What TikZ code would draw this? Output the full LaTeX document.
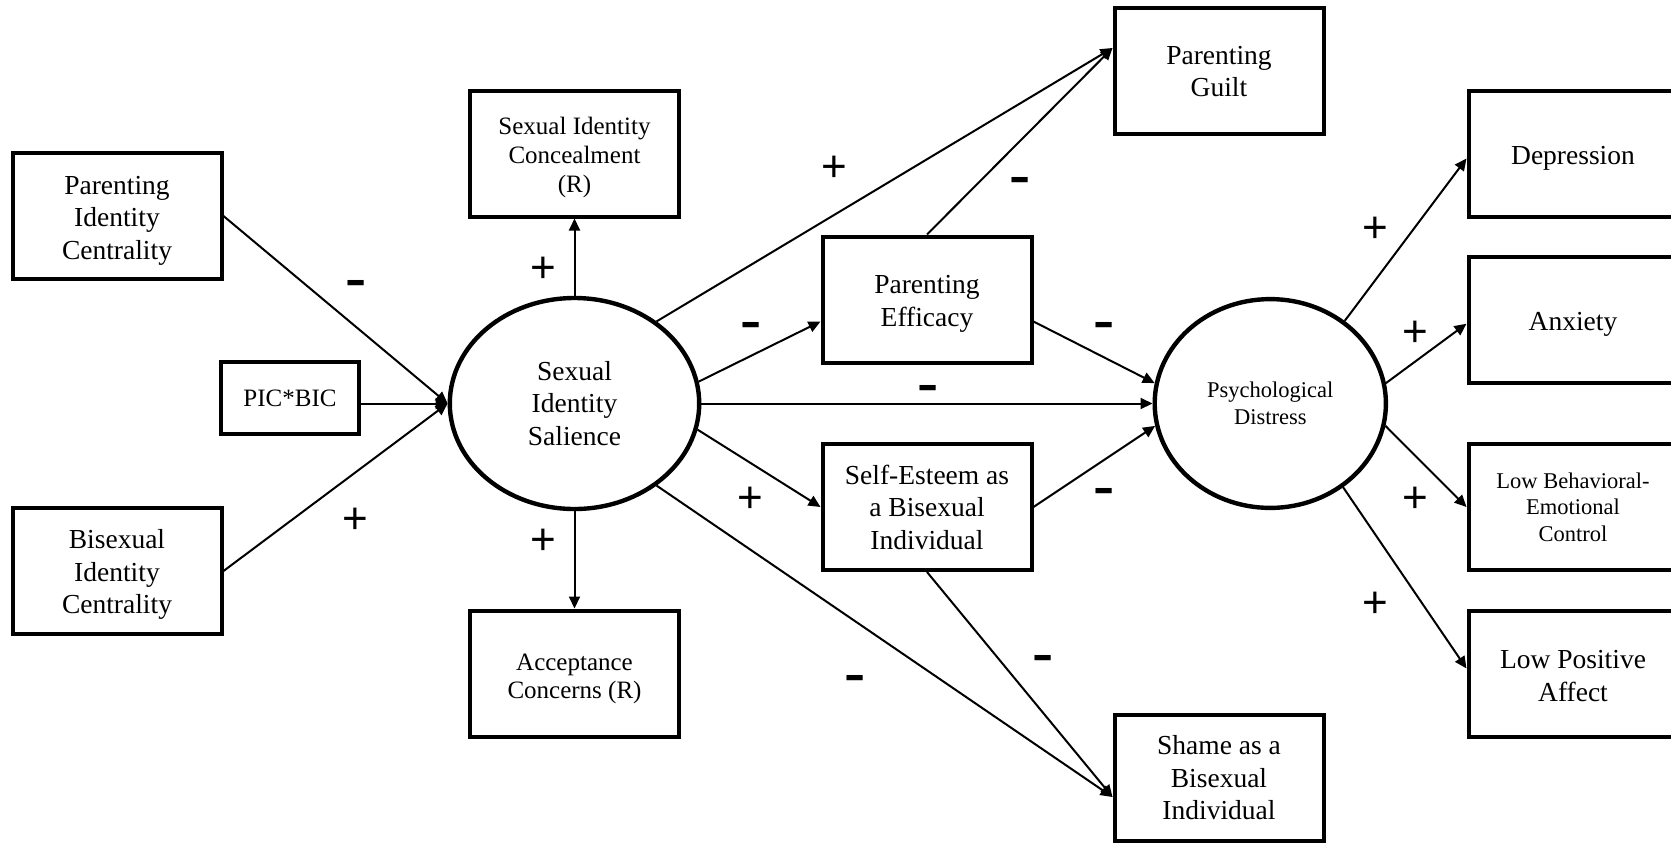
\documentclass[tikz,border=0pt]{standalone}
\usepackage{fontspec}
\setmainfont{Liberation Serif}
\setsansfont{Liberation Sans}
\usepackage{graphicx}
\usetikzlibrary{arrows.meta,shapes.geometric,calc}
\newcommand\fbig{\fontsize{13.75pt}{16.25pt}\selectfont}
\newcommand\fmid{\fontsize{12.5pt}{14.4pt}\selectfont}
\newcommand\fsmall{\fontsize{11.25pt}{13.25pt}\selectfont}
\newcommand\fsign{\sffamily\fontsize{22pt}{22pt}\selectfont}
\newcommand\mns{\scalebox{1.45}[1]{\bfseries -}}
\tikzset{
  box/.style={draw, line width=2pt, minimum width=104.5pt, minimum height=63pt,
    inner sep=0pt, align=center, font=\fbig},
  lat/.style={draw, ellipse, line width=2.2pt, minimum width=124.7pt, minimum height=105.5pt,
    inner sep=0pt, align=center, font=\fbig},
  arr/.style={line width=1pt, -{Triangle[length=6pt,width=5.5pt]}},
  plus/.style={font=\fsign, inner sep=0pt},
  minus/.style={font=\fsign, inner sep=0pt, yshift=-2pt},
  low/.style={execute at begin node={\rule{0pt}{#1}}},
}
\begin{document}
\begin{tikzpicture}[x=0.5pt, y=-0.5pt]
\useasboundingbox (0,0) rectangle (1671,842);
\clip (0,0) rectangle (1671,842);
\fill[white] (0,0) rectangle (1671,842);
% nodes
\node[box, low=46.2pt] (pic) at (117,216) {Parenting\\Identity\\Centrality};
\node[box, minimum width=69pt, minimum height=35.7pt, font=\fmid] (picbic) at (290,398) {PIC*BIC};
\node[box, low=45.5pt] (bic) at (117,571) {Bisexual\\Identity\\Centrality};
\node[box, font=\fmid, low=41.6pt] (conc) at (574.5,153.5) {Sexual Identity\\Concealment\\(R)};
\node[lat] (sal) at (574.5,403.5) {Sexual\\Identity\\Salience};
\node[box, font=\fmid, low=28.1pt] (acc) at (574.5,673.5) {Acceptance\\Concerns (R)};
\node[box] (guilt) at (1219,71.4) {Parenting\\Guilt};
\node[box, low=29.9pt] (eff) at (927,299.5) {Parenting\\Efficacy};
\node[box] (se) at (927,507) {Self-Esteem as\\a Bisexual\\Individual};
\node[box] (shame) at (1219,778) {Shame as a\\Bisexual\\Individual};
\node[lat, minimum width=115.6pt, minimum height=104.4pt, font=\fsmall] (dist) at (1270.3,403.5) {Psychological\\Distress};
\node[box, low=13.7pt] (dep) at (1573,153.5) {Depression};
\node[box, low=13.7pt] (anx) at (1573,319.7) {Anxiety};
\node[box, font=\fsmall] (lbec) at (1573,507) {Low Behavioral-\\Emotional\\Control};
\node[box, low=27.8pt] (lpa) at (1573,673.5) {Low Positive\\Affect};
% connectors
\draw[arr] (pic.east) -- (sal.west);
\draw[arr] (picbic.east |- sal.west) -- (sal.west);
\draw[arr] (bic.east) -- (sal.west);
\draw[arr] (sal.north) -- (conc.south);
\draw[arr] (sal.south) -- (acc.north);
\coordinate (gin) at ([yshift=11.7pt]guilt.west);
\draw[arr] (sal.45) -- (gin);
\draw[arr] (eff.north) -- (gin);
\draw[arr] (sal.10) -- ([yshift=-11pt]eff.west);
\draw[arr] (sal.east) -- (dist.west);
\draw[arr] (sal.-12) -- (se.west);
\draw[arr] ([yshift=-11pt]eff.east) -- (dist.170);
\draw[arr] (se.east) -- (dist.191);
\coordinate (shin) at ([yshift=-9.5pt]shame.west);
\draw[arr] (sal.-45) -- (shin);
\draw[arr] (se.south) -- (shin);
\draw[arr] (dist.48) -- ([yshift=-2.5pt]dep.west);
\draw[arr] (dist.10) -- ([yshift=-2pt]anx.west);
\draw[arr] (dist.-11) -- (lbec.west);
\draw[arr] (dist.-49) -- ([yshift=2.5pt]lpa.west);
% signs
\node[minus] (s1) at (355.8,283.3) {\mns};
\node[plus] (s2) at (355.8,521) {+};
\node[plus] (s3) at (543,270) {+};
\node[plus] (s4) at (543,541.7) {+};
\node[plus] (s5) at (834.2,168.3) {+};
\node[minus] (s6) at (1020.4,180) {\mns};
\node[minus] (s7) at (751.6,325.7) {\mns};
\node[minus] (s8) at (1104.3,325.7) {\mns};
\node[minus] (s9) at (928,388.8) {\mns};
\node[plus] (s10) at (750.7,500) {+};
\node[minus] (s11) at (1104.3,491.7) {\mns};
\node[minus] (s12) at (855.2,678.3) {\mns};
\node[minus] (s13) at (1043.1,658.3) {\mns};
\node[plus] (s14) at (1375,230) {+};
\node[plus] (s15) at (1415.7,333.3) {+};
\node[plus] (s16) at (1415.7,500) {+};
\node[plus] (s17) at (1375,605) {+};
\end{tikzpicture}
\end{document}
